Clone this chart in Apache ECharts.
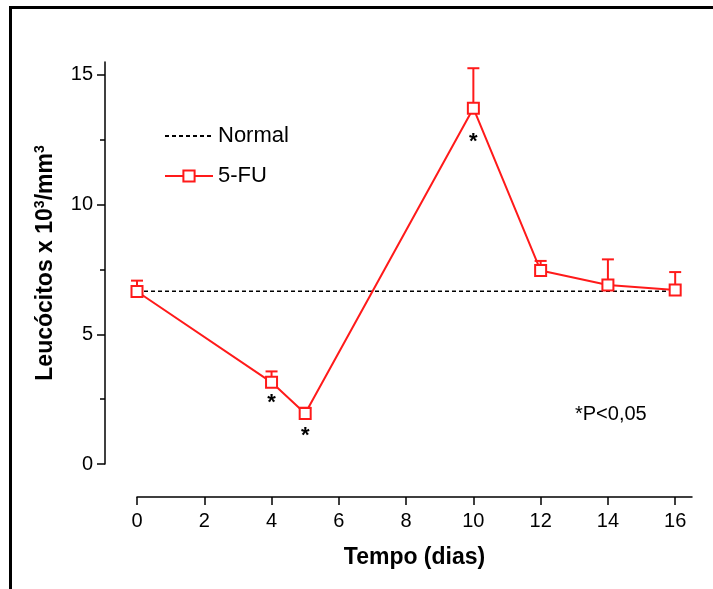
<!DOCTYPE html>
<html>
<head>
<meta charset="utf-8">
<script src="https://cdn.jsdelivr.net/npm/echarts@6/dist/echarts.min.js"></script>
<style>
  html, body { margin: 0; padding: 0; background: #fff; }
  #chart { width: 713px; height: 589px; }
</style>
</head>
<body>
<div id="chart"></div>
<script>
// days and mean leukocyte counts (x10^3/mm3), with upper SD
var days = [0, 4, 5, 10, 12, 14, 16];
var fu = [6.65, 3.15, 1.95, 13.72, 7.46, 6.9, 6.71];
var sd = [0.42, 0.42, 0.22, 1.54, 0.37, 0.99, 0.69];
var sig = [false, true, true, true, false, false, false];
var normal = 6.66;
var xTicks = [0, 2, 4, 6, 8, 10, 12, 14, 16];
var yTicks = [0, 5, 10, 15];
var yMinor = [2.5, 7.5, 12.5];

var chart = echarts.init(document.getElementById("chart"));
var font = "Arial, 'Liberation Sans', sans-serif";
var red = "#ff1a1a";

// asterisk distance under the square
var starGap = { 4: 3, 5: 5, 10: 16 };

var fuData = days.map(function (d, i) {
  var item = { value: [d, fu[i]] };
  if (sig[i]) {
    item.label = {
      show: true,
      formatter: "*",
      position: "bottom",
      distance: starGap[d],
      color: "#000",
      fontSize: 22,
      fontWeight: "bold",
      fontFamily: font,
    };
  }
  return item;
});

var errData = days.map(function (d, i) {
  return [d, fu[i], sd[i]];
});

var option = {
  animation: false,
  backgroundColor: "#fff",
  grid: { left: 137, right: 21, top: 62, bottom: 125 },
  legend: {
    data: [
      { name: "Normal", itemStyle: { opacity: 0 } },
      { name: "5-FU" },
    ],
    orient: "vertical",
    left: 159,
    top: 120,
    itemWidth: 48,
    itemHeight: 14,
    itemGap: 18,
    textStyle: { fontSize: 22, lineHeight: 22, color: "#000", fontFamily: font },
  },
  xAxis: {
    type: "value",
    min: 0,
    max: 16.5,
    offset: 33,
    name: "Tempo (dias)",
    nameLocation: "middle",
    nameGap: 49,
    nameTextStyle: { fontSize: 23, fontWeight: "bold", color: "#000", fontFamily: font },
    axisLine: { onZero: false, lineStyle: { color: "#000", width: 1.5 } },
    axisTick: { customValues: xTicks, length: 8, lineStyle: { color: "#000", width: 1.5 } },
    axisLabel: { customValues: xTicks, margin: 14, fontSize: 20, color: "#000", fontFamily: font },
    splitLine: { show: false },
  },
  yAxis: [
    {
      type: "value",
      min: 0,
      max: 15.5,
      offset: 32,
      name: "{b|Leucócitos x 10}{s|3}{b|/mm}{s|3}",
      nameLocation: "middle",
      nameGap: 46,
      nameTextStyle: {
        rich: {
          b: { fontSize: 23, fontWeight: "bold", color: "#000", fontFamily: font },
          s: { fontSize: 14, fontWeight: "bold", color: "#000", fontFamily: font, verticalAlign: "top", padding: [0, 0, 12, 0] },
        },
      },
      axisLine: { show: true, onZero: false, lineStyle: { color: "#000", width: 1.5 } },
      axisTick: { show: true, customValues: yTicks, length: 8, lineStyle: { color: "#000", width: 1.5 } },
      axisLabel: { customValues: yTicks, margin: 12, fontSize: 20, color: "#000", fontFamily: font },
      splitLine: { show: false },
    },
    {
      type: "value",
      min: 0,
      max: 15.5,
      offset: 32,
      position: "left",
      axisLine: { show: false, onZero: false },
      axisTick: { show: true, customValues: yMinor, length: 5, lineStyle: { color: "#000", width: 1.5 } },
      axisLabel: { show: false },
      splitLine: { show: false },
    },
  ],
  graphic: [
    {
      type: "rect",
      shape: { x: 10.5, y: 7.5, width: 800, height: 700 },
      style: { fill: "none", stroke: "#000", lineWidth: 3 },
      silent: true,
    },
    {
      type: "text",
      left: 575,
      top: 404,
      style: { text: "*P<0,05", fill: "#000", font: "20px " + font },
    },
  ],
  series: [
    {
      name: "Normal",
      type: "line",
      data: [[0, normal], [16, normal]],
      symbol: "none",
      lineStyle: { color: "#000", width: 1.3, type: [4, 3] },
      itemStyle: { color: "#000" },
      z: 1,
    },
    {
      name: "err",
      type: "custom",
      data: errData,
      z: 2,
      renderItem: function (params, api) {
        var p0 = api.coord([api.value(0), api.value(1)]);
        var p1 = api.coord([api.value(0), api.value(1) + api.value(2)]);
        var st = { stroke: red, lineWidth: 2 };
        return {
          type: "group",
          children: [
            { type: "line", shape: { x1: p0[0], y1: p0[1], x2: p1[0], y2: p1[1] }, style: st },
            { type: "line", shape: { x1: p1[0] - 6, y1: p1[1], x2: p1[0] + 6, y2: p1[1] }, style: st },
          ],
        };
      },
    },
    {
      name: "5-FU",
      type: "line",
      data: fuData,
      symbol: "rect",
      symbolSize: 11,
      lineStyle: { color: red, width: 2 },
      itemStyle: { color: "#fff", borderColor: red, borderWidth: 2 },
      z: 3,
    },
  ],
};

chart.setOption(option);
</script>
</body>
</html>
